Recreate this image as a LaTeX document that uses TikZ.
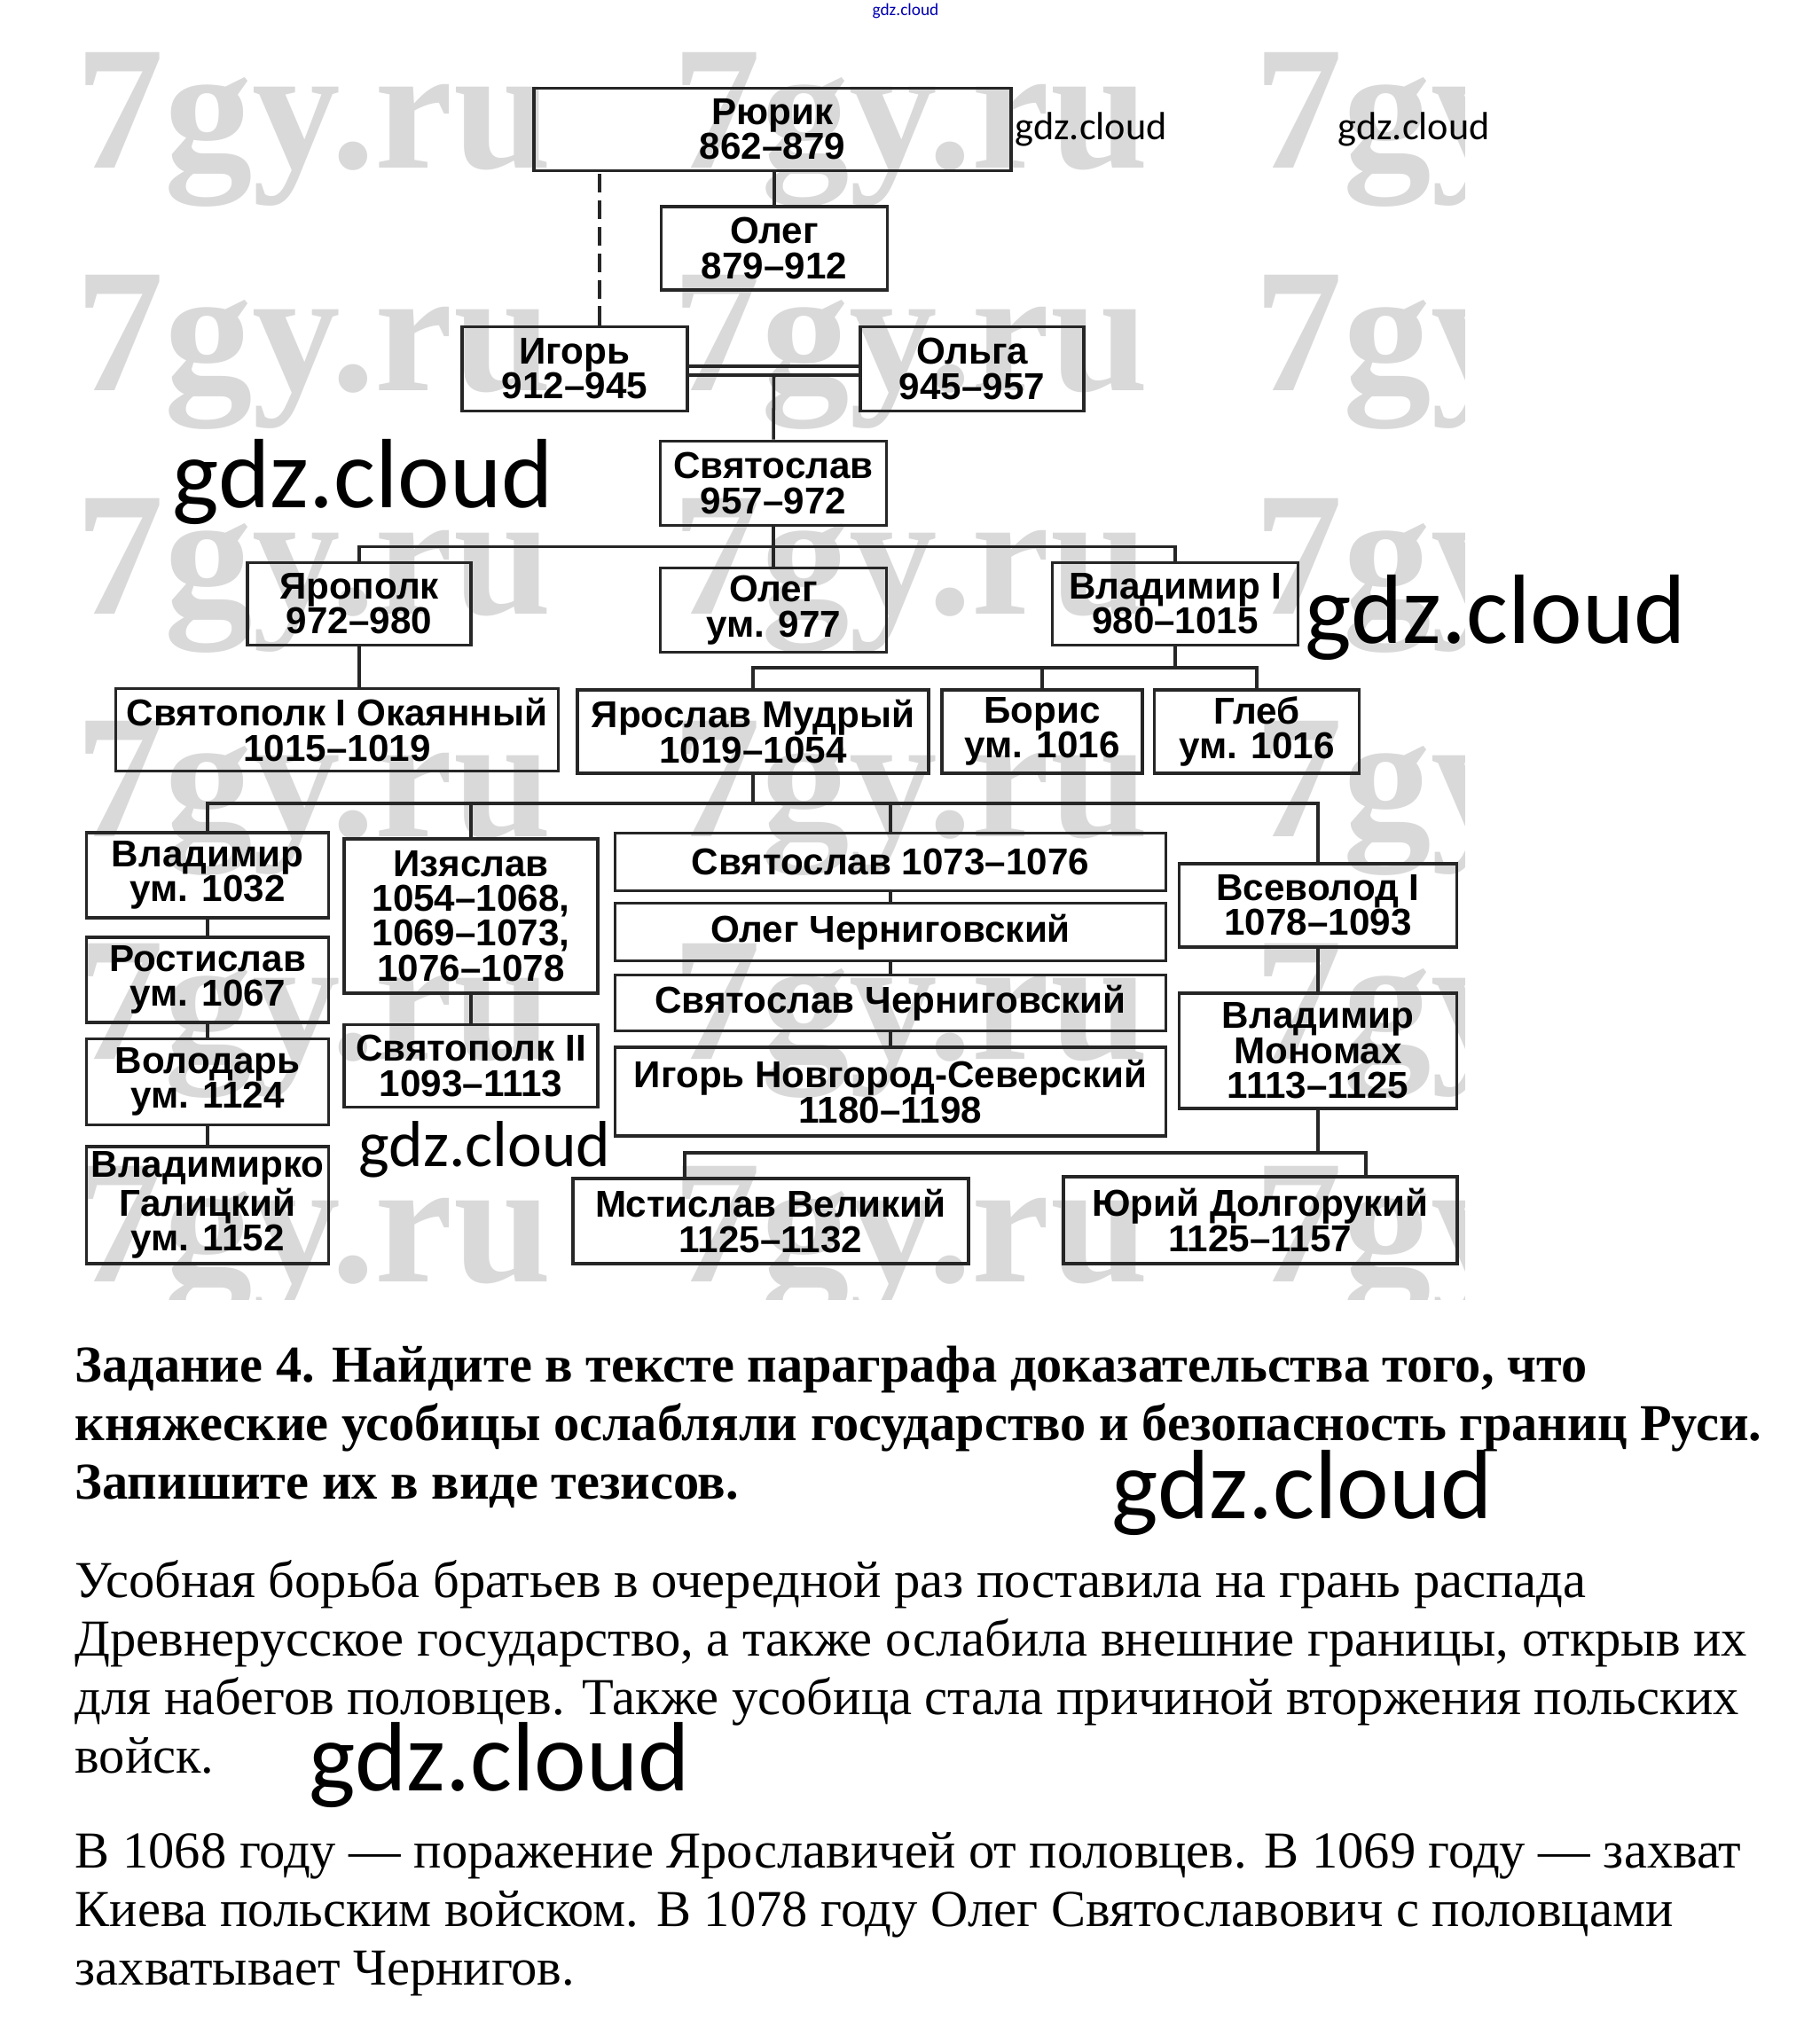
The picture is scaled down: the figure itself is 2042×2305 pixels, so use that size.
\documentclass[tikz,border=0pt]{standalone}
\usepackage{fontspec}
\setmainfont{Liberation Serif}
\newfontfamily\boxfont[Ligatures=TeX]{Liberation Sans}
\newfontfamily\gdzfont{Carlito}
\usetikzlibrary{calc}

\begin{document}
\begin{tikzpicture}[x=0.1mm, y=-0.1mm,
  pr/.style={rectangle, draw=black!85, line width=1.1pt, inner sep=0pt, align=center,
             font=\boxfont\bfseries\fontsize{12}{11.2}\selectfont},
  sz/.style 2 args={minimum width=#1mm, minimum height=#2mm},
  ln/.style={line width=1pt, black!85},
  wm/.style={anchor=base west, inner sep=0pt, text=black!15,
             font=\bfseries\fontsize{56.6}{60}\selectfont},
  gdz/.style={anchor=west, inner sep=0pt, font=\gdzfont\fontsize{#1}{#1}\selectfont},
  txt/.style={anchor=base west, inner sep=0pt, align=left,
              font=\fontsize{16.65}{18.78}\selectfont}]
\useasboundingbox (0,0) rectangle (2042,2305);
\begin{scope}
\clip (84,40) rectangle (1651,1465);
\foreach \y in {190,441,692,943,1194,1445}
  \foreach \x in {85,758,1414}
    \node[wm] at (\x,\y) {7gy.ru};
\end{scope}
\node[pr, sz={53.8}{9.3}] (rr) at (871,146) {Рюрик\\862--879};
\node[pr, sz={25.5}{9.4}] (ol1) at (873,280) {Олег\\879--912};
\node[pr, sz={25.4}{9.5}] (ig) at (648,416) {Игорь\\912--945};
\node[pr, sz={25.2}{9.5}] (og) at (1096,416) {Ольга\\945--957};
\node[pr, sz={25.5}{9.5}] (sv) at (872,545) {Святослав\\957--972};
\node[pr, sz={25.2}{9.3}] (yp) at (405,681) {Ярополк\\972--980};
\node[pr, sz={25.5}{9.5}] (ol2) at (872,688) {Олег\\ум. 977};
\node[pr, sz={27.7}{9.3}] (vl) at (1325,681) {Владимир I\\980--1015};
\node[pr, sz={49.9}{9.3}] (sp) at (380,823) {Святополк I Окаянный\\1015--1019};
\node[pr, sz={39.6}{9.4}] (ya) at (849,825) {Ярослав Мудрый\\1019--1054};
\node[pr, sz={22.6}{9.4}] (bo) at (1175,825) {Борис\\ум. 1016};
\node[pr, sz={23.1}{9.4}] (gl) at (1417,825) {Глеб\\ум. 1016};
\node[pr, sz={27.3}{9.6}] (vm) at (234,987) {Владимир\\ум. 1032};
\node[pr, sz={27.3}{9.6}] (ro) at (234,1105) {Ростислав\\ум. 1067};
\node[pr, sz={27.3}{9.7}] (vd) at (234,1220) {Володарь\\ум. 1124};
\node[pr, sz={27.3}{13.2}] (vk) at (234,1359) {Владимирко\\Галицкий\\ум. 1152};
\node[pr, sz={28.6}{17.4}] (iz) at (531,1033) {Изяслав\\1054--1068,\\1069--1073,\\1076--1078};
\node[pr, sz={28.6}{9.3}] (sp2) at (531,1202) {Святополк II\\1093--1113};
\node[pr, sz={62.1}{6.5}] (sl) at (1004,972) {Святослав 1073--1076};
\node[pr, sz={62.1}{6.5}] (oc) at (1004,1051) {Олег Черниговский};
\node[pr, sz={62.1}{6.3}] (sc) at (1004,1131) {Святослав Черниговский};
\node[pr, sz={62.1}{10}] (ns) at (1004,1231) {Игорь Новгород-Северский\\1180--1198};
\node[pr, sz={31.3}{9.4}] (vs) at (1486,1021) {Всеволод I\\1078--1093};
\node[pr, sz={31.3}{13}] (mo) at (1486,1185) {Владимир\\Мономах\\1113--1125};
\node[pr, sz={44.6}{9.6}] (ms) at (869,1377) {Мстислав Великий\\1125--1132};
\node[pr, sz={44.4}{9.8}] (yu) at (1421,1376) {Юрий Долгорукий\\1125--1157};
\coordinate (dz) at ($(ig.north)+(28,0)$);
\coordinate (mr) at ($(ig.east)!0.5!(og.west)$);
\coordinate (b1) at ($(sv.south)!0.5!(ol2.north)$);
\coordinate (b2) at ($(vl.south)!0.5!(gl.north)$);
\coordinate (b3) at ($(ya.south)!0.5!(sl.north)$);
\coordinate (b4l) at ($(ms.north)+(-97,-27)$);
\coordinate (b4r) at ($(yu.north)+(119,-25)$);
\draw[ln, dash pattern=on 6pt off 2.5pt] (dz) -- (dz |- rr.south);
\draw[ln] (rr.south -| ol1.north) -- (ol1.north);
\draw[ln] ($(ig.east)+(0,-3)$) -- ($(og.west)+(0,-3)$); \draw[ln] ($(ig.east)+(0,7)$) -- ($(og.west)+(0,7)$);
\draw[ln] ($(mr)+(0,7)$) -- (sv.north);
\draw[ln] (sv.south) -- (ol2.north); \draw[ln] (yp.north) |- (b1) -| (vl.north);
\draw[ln] (yp.south) -- (yp.south |- sp.north);
\draw[ln] (vl.south) -- (vl.south |- b2); \draw[ln] (ya.north) |- (b2) -| (gl.north);
\draw[ln] (bo.north) -- (bo.north |- b2);
\draw[ln] (ya.south) -- (ya.south |- b3); \draw[ln] (vm.north) |- (b3) -| (vs.north);
\draw[ln] (iz.north) -- (iz.north |- b3); \draw[ln] (sl.north) -- (sl.north |- b3);
\draw[ln] (vm.south) -- (ro.north); \draw[ln] (ro.south) -- (vd.north); \draw[ln] (vd.south) -- (vk.north);
\draw[ln] (iz.south) -- (sp2.north);
\draw[ln] (sl.south) -- (oc.north); \draw[ln] (oc.south) -- (sc.north); \draw[ln] (sc.south) -- (ns.north);
\draw[ln] (vs.south) -- (mo.north); \draw[ln] (mo.south) -- (mo.south |- b4l);
\draw[ln] (b4l |- ms.north) -- (b4l) -- (b4r) -- (b4r |- yu.north);
\node[txt, font=\bfseries\fontsize{16.6}{18.78}\selectfont] (hd) at (84,1690)
  {Задание 4. Найдите в тексте параграфа доказательства того, что\\княжеские усобицы ослабляли государство и безопасность границ Руси.\\Запишите их в виде тезисов.};
\node[txt] (pa) at (84,1999) {Усобная борьба братьев в очередной раз поставила на грань распада\\Древнерусское государство, а также ослабила внешние границы, открыв их\\для набегов половцев. Также усобица стала причиной вторжения польских\\войск.};
\node[txt] (pb) at (84,2238) {В 1068 году --- поражение Ярославичей от половцев. В 1069 году --- захват\\Киева польским войском. В 1078 году Олег Святославович с половцами\\захватывает Чернигов.};
\node[gdz=5.5, anchor=center, text=blue!70!black] (g0) at (1021,12) {gdz.cloud};
\node[gdz=12.6] (g1) at (1144,146) {gdz.cloud};
\node[gdz=12.6] (g2) at (1508,146) {gdz.cloud};
\node[gdz=31.6] (g3) at (194,543) {gdz.cloud};
\node[gdz=31.6] (g4) at (1471,696) {gdz.cloud};
\node[gdz=20.9] (g5) at (404,1296) {gdz.cloud};
\node[gdz=31.6] (g6) at (1253,1683) {gdz.cloud};
\node[gdz=31.6] (g7) at (348,1990) {gdz.cloud};
\end{tikzpicture}
\end{document}
